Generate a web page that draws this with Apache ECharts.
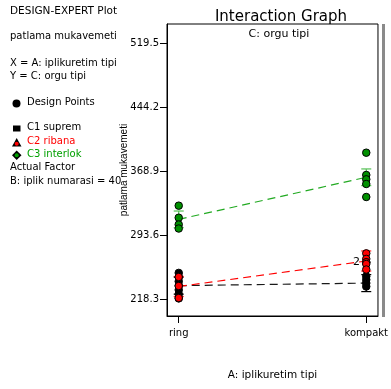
<!DOCTYPE html>
<html>
<head>
<meta charset="utf-8">
<script src="https://cdn.jsdelivr.net/npm/echarts@6/dist/echarts.min.js"></script>
<style>
  html, body { margin: 0; padding: 0; background: #fff; }
  #chart { width: 391px; height: 389px; }
</style>
</head>
<body>
<div id="chart"></div>
<script>
// Factor A levels along the x axis
const categories = ['ring', 'kompakt'];
// Tick values on the response axis
const yTicks = [218.3, 293.6, 368.9, 444.2, 519.5];

// Design points (patlama mukavemeti) per orgu tipi level, at ring / kompakt
const supremRing = [249, 244, 239, 234, 229, 224, 219];
const supremKompakt = [245, 241, 237, 233];
const ribanaRing = [244.2, 233.6, 219.5];
const ribanaKompakt = [272, 265.5, 261.5, 261.5, 259.5, 253];
const interlokRing = [328.1, 313.9, 305.9, 301.2];
const interlokKompakt = [390.4, 364.2, 359.1, 353.6, 338.3];

// Predicted means at ring / kompakt
const supremMeans = [234, 237];
const ribanaMeans = [233, 263];
const interlokMeans = [312, 361.5];

// LSD half-widths: suprem, ribana, interlok
const lsdHalf = [10, 11.8, 9.8];

const FONT = '"DejaVu Sans", "Liberation Sans", sans-serif';

const groups = [
  { name: 'C1 suprem', ring: supremRing, komp: supremKompakt, means: supremMeans, lsd: lsdHalf[0],
    fill: '#000000', line: '#1a1a1a', bar: '#000000' },
  { name: 'C2 ribana', ring: ribanaRing, komp: ribanaKompakt, means: ribanaMeans, lsd: lsdHalf[1],
    fill: '#ff0000', line: '#ff0000', bar: '#ff2020' },
  { name: 'C3 interlok', ring: interlokRing, komp: interlokKompakt, means: interlokMeans, lsd: lsdHalf[2],
    fill: '#009000', line: '#22aa22', bar: '#55c055' }
];

// replicated values get a count label beside the point
function pointData(values, xIndex) {
  const seen = {};
  values.forEach(v => { seen[v] = (seen[v] || 0) + 1; });
  const labelled = {};
  return values.map(v => {
    const item = { value: [xIndex, v] };
    if (seen[v] > 1 && !labelled[v]) {
      labelled[v] = true;
      item.label = { show: true, formatter: String(seen[v]), position: 'left', distance: 2,
        color: '#000', fontSize: 11, fontFamily: FONT };
    }
    return item;
  });
}

const series = [];
groups.forEach(g => {
  // dashed line through the means
  series.push({
    type: 'line', z: 2, silent: true, symbol: 'none',
    data: g.means.map((m, i) => [i, m]),
    lineStyle: { color: g.line, width: 1.2, type: [8, 5] }
  });
  // LSD bars
  series.push({
    type: 'custom', z: 3, silent: true,
    data: g.means.map((m, i) => [i, m, g.lsd]),
    renderItem: function (params, api) {
      const x = api.value(0), m = api.value(1), h = api.value(2);
      const top = api.coord([x, m + h]);
      const bot = api.coord([x, m - h]);
      const st = { stroke: g.bar, lineWidth: 1.2 };
      return {
        type: 'group',
        children: [
          { type: 'line', shape: { x1: top[0], y1: top[1], x2: bot[0], y2: bot[1] }, style: st },
          { type: 'line', shape: { x1: top[0] - 5, y1: top[1], x2: top[0] + 5, y2: top[1] }, style: st },
          { type: 'line', shape: { x1: bot[0] - 5, y1: bot[1], x2: bot[0] + 5, y2: bot[1] }, style: st }
        ]
      };
    }
  });
});
groups.forEach((g, gi) => {
  series.push({
    type: 'scatter', z: 4 + gi, silent: true,
    symbol: 'circle', symbolSize: 7.5,
    itemStyle: { color: g.fill, borderColor: '#000', borderWidth: 1, opacity: 1 },
    data: pointData(g.ring, 0).concat(pointData(g.komp, 1))
  });
});

// left-hand annotation block
const leftText = [
  { t: 'DESIGN-EXPERT Plot', x: 10, y: 12, c: '#000' },
  { t: 'patlama mukavemeti', x: 10, y: 37.5, c: '#000' },
  { t: 'X = A: iplikuretim tipi', x: 10, y: 64.5, c: '#000' },
  { t: 'Y = C: orgu tipi', x: 10, y: 77.5, c: '#000' },
  { t: 'Design Points', x: 27, y: 103.5, c: '#000' },
  { t: 'C1 suprem', x: 27, y: 128.5, c: '#000' },
  { t: 'C2 ribana', x: 27, y: 142.5, c: '#ff0000' },
  { t: 'C3 interlok', x: 27, y: 155.5, c: '#00a000' },
  { t: 'Actual Factor', x: 10, y: 168.5, c: '#000' },
  { t: 'B: iplik numarasi = 40', x: 10, y: 182, c: '#000' }
];
const graphics = leftText.map(o => ({
  type: 'text', left: o.x, top: o.y - 6,
  style: { text: o.t, fill: o.c, font: (o.t === 'DESIGN-EXPERT Plot' ? '10.5px ' : '10px ') + FONT }
}));
graphics.push(
  { type: 'circle', shape: { cx: 16.5, cy: 103.5, r: 4 }, style: { fill: '#000' } },
  { type: 'rect', shape: { x: 13, y: 125.5, width: 7.5, height: 6 }, style: { fill: '#000' } },
  { type: 'polygon', shape: { points: [[16.7, 138], [21.5, 146.5], [12, 146.5]] }, style: { fill: '#000' } },
  { type: 'circle', shape: { cx: 16.7, cy: 143.8, r: 2 }, style: { fill: '#ff0000' } },
  { type: 'polygon', shape: { points: [[16.7, 150.5], [21.5, 155.2], [16.7, 160], [12, 155.2]] }, style: { fill: '#000' } },
  { type: 'circle', shape: { cx: 16.7, cy: 155.2, r: 2 }, style: { fill: '#00a000' } },
  // grey right side of the plot frame
  { type: 'rect', shape: { x: 382, y: 24, width: 3, height: 293 }, style: { fill: '#8a8a8a' }, z: 10 }
);

const chart = echarts.init(document.getElementById('chart'), null, { renderer: 'canvas' });
chart.setOption({
  animation: false,
  backgroundColor: '#fff',
  title: [
    { text: 'Interaction Graph', left: 276, top: 5, textAlign: 'center',
      textStyle: { fontFamily: FONT, fontSize: 15, fontWeight: 'normal', color: '#000' } },
    { text: 'C: orgu tipi', left: 274, top: 24, textAlign: 'center',
      textStyle: { fontFamily: FONT, fontSize: 11, fontWeight: 'normal', color: '#000' } }
  ],
  grid: { left: 167, top: 24, right: 8, bottom: 73, show: true, borderColor: '#000', borderWidth: 1, containLabel: false },
  xAxis: {
    type: 'value', min: -0.0625, max: 1.0625,
    name: 'A: iplikuretim tipi', nameLocation: 'middle', nameGap: 54, nameMoveOverlap: false,
    nameTextStyle: { fontFamily: FONT, fontSize: 10.5, color: '#000' },
    axisLine: { show: true, onZero: false, lineStyle: { color: '#000' } },
    axisTick: { show: true, length: 7, customValues: [0, 1], lineStyle: { color: '#000' } },
    axisLabel: { customValues: [0, 1], formatter: v => categories[Math.round(v)], margin: 12,
      fontFamily: FONT, fontSize: 10, color: '#000' },
    splitLine: { show: false }
  },
  yAxis: {
    type: 'value', min: 198.3, max: 541.8,
    name: 'patlama mukavemeti', nameLocation: 'middle', nameGap: 38, nameRotate: 90, nameMoveOverlap: false,
    nameTextStyle: { fontFamily: '"Liberation Sans Narrow", "Liberation Sans", sans-serif', fontSize: 10, color: '#000' },
    axisLine: { show: true, onZero: false, lineStyle: { color: '#000' } },
    axisTick: { show: true, length: 7, customValues: yTicks, lineStyle: { color: '#000' } },
    axisLabel: { customValues: yTicks, formatter: v => v.toFixed(1), margin: 8,
      fontFamily: FONT, fontSize: 10, color: '#000' },
    splitLine: { show: false }
  },
  graphic: graphics,
  series: series
});
</script>
</body>
</html>
